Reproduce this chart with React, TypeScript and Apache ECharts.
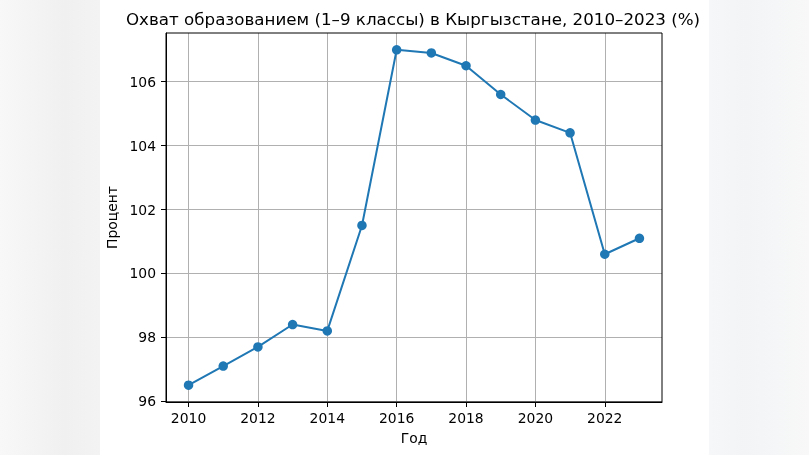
import React, { useEffect, useRef } from "react";
import * as echarts from "echarts";

const years = [2010, 2011, 2012, 2013, 2014, 2015, 2016, 2017, 2018, 2019, 2020, 2021, 2022, 2023];
const values = [96.5, 97.1, 97.7, 98.4, 98.2, 101.5, 107.0, 106.9, 106.5, 105.6, 104.8, 104.4, 100.6, 101.1];
const xTicks = [2010, 2012, 2014, 2016, 2018, 2020, 2022];
const yTicks = [96, 98, 100, 102, 104, 106];

const TITLE = "Охват образованием (1–9 классы) в Кыргызстане, 2010–2023 (%)";
const FONT = "DejaVu Sans";

const W = 809, H = 455;
const G = { left: 166, right: 147, top: 33, bottom: 53 };

export default function App() {
  const ref = useRef<HTMLDivElement>(null);
  useEffect(() => {
    document.body.style.margin = "0";
    const chart = echarts.init(ref.current!, null, { renderer: "svg" });
    const xMin = 2009.35, xMax = 2023.65, yMin = 95.975, yMax = 107.525;
    const pw = W - G.left - G.right, ph = H - G.top - G.bottom;
    chart.setOption({
      animation: false,
      backgroundColor: "transparent",
      title: {
        text: TITLE,
        left: G.left + pw / 2 - 6,
        textAlign: "center",
        top: 5,
        textStyle: { fontFamily: FONT, fontSize: 16.7, fontWeight: "normal", color: "#000" },
      },
      graphic: [
        {
          type: "rect",
          z: -10,
          silent: true,
          shape: { x: 0, y: 0, width: W, height: H },
          style: {
            fill: new echarts.graphic.LinearGradient(0, 0, 1, 0, [
              { offset: 0, color: "#f8f8f8" },
              { offset: 0.08, color: "#f0f0f0" },
              { offset: 0.124, color: "#f3f3f3" },
              { offset: 0.876, color: "#f6f7f8" },
              { offset: 0.92, color: "#f2f4f6" },
              { offset: 1, color: "#f8f8f8" },
            ]),
          },
        },
        {
          type: "rect",
          z: -9,
          silent: true,
          shape: { x: 100, y: 0, width: 609, height: H },
          style: { fill: "#ffffff" },
        },
        {
          type: "rect",
          silent: true,
          z: 100,
          shape: { x: G.left, y: G.top, width: pw, height: ph },
          style: { fill: "none", stroke: "#000", lineWidth: 1 },
        },
      ],
      grid: { left: G.left, right: G.right, top: G.top, bottom: G.bottom, containLabel: false, show: false },
      xAxis: {
        type: "value",
        min: xMin,
        max: xMax,
        name: "Год",
        nameLocation: "middle",
        nameGap: 29,
        nameTextStyle: { fontFamily: FONT, fontSize: 13.9, color: "#000" },
        axisLine: { show: true, onZero: false, lineStyle: { color: "#000", width: 1 } },
        axisTick: { show: true, length: 5, inside: false, customValues: xTicks, lineStyle: { color: "#000" } },
        axisLabel: {
          customValues: xTicks,
          fontFamily: FONT,
          fontSize: 13.9,
          color: "#000",
          margin: 9,
          formatter: (v: number) => String(Math.round(v)),
        },
        splitLine: { show: true, lineStyle: { color: "#b0b0b0", width: 1 } },
      },
      yAxis: {
        type: "value",
        min: yMin,
        max: yMax,
        name: "Процент",
        nameLocation: "middle",
        nameGap: 38,
        nameRotate: 90,
        nameTextStyle: { fontFamily: FONT, fontSize: 13.9, color: "#000" },
        axisLine: { show: true, onZero: false, lineStyle: { color: "#000", width: 1 } },
        axisTick: { show: true, length: 5, inside: false, customValues: yTicks, lineStyle: { color: "#000" } },
        axisLabel: {
          customValues: yTicks,
          fontFamily: FONT,
          fontSize: 13.9,
          color: "#000",
          margin: 10,
          formatter: (v: number) => String(Math.round(v)),
        },
        splitLine: { show: true, lineStyle: { color: "#b0b0b0", width: 1 } },
      },
      series: [
        {
          type: "line",
          data: years.map((y, i) => [y, values[i]]),
          symbol: "circle",
          symbolSize: 9.5,
          lineStyle: { color: "#1f77b4", width: 2 },
          itemStyle: { color: "#1f77b4" },
          z: 5,
        },
      ],
    });
    return () => chart.dispose();
  }, []);
  return <div ref={ref} style={{ position: "fixed", left: 0, top: 0, width: W, height: H }} />;
}
